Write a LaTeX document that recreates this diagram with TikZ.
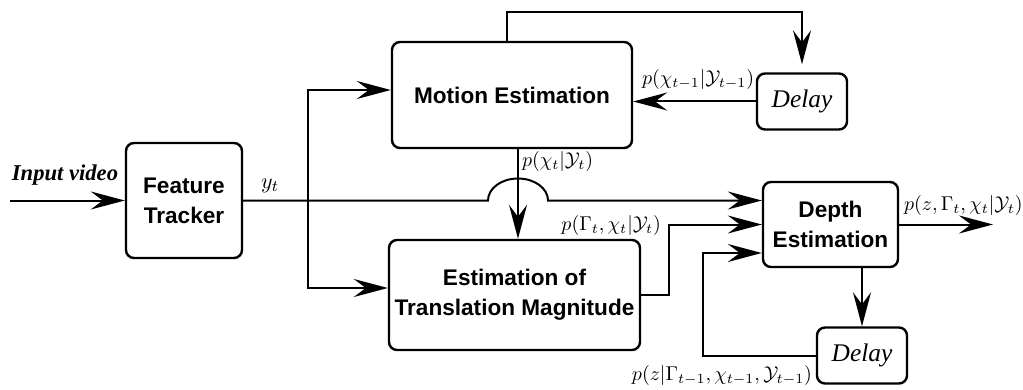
\documentclass[tikz,border=0pt]{standalone}
\usepackage{fontspec}
\setmainfont{Liberation Serif}
\setsansfont{Liberation Sans}
\usetikzlibrary{positioning, arrows.meta}

\begin{document}
\begin{tikzpicture}[x=0.5pt, y=-0.5pt, line width=1pt,
    >={Stealth[length=17pt, width=9pt, inset=6pt]},
    blk/.style={draw, line width=1.2pt, rounded corners=4pt, inner sep=0pt, align=center,
        font=\fontsize{11.3}{15}\selectfont\sffamily\bfseries},
    dly/.style={draw, line width=1.2pt, rounded corners=4pt, minimum width=45pt,
        minimum height=28pt, font=\fontsize{12.7}{15}\selectfont\itshape},
    lbl/.style={inner sep=0pt, font=\fontsize{10}{12}\selectfont}]

    \useasboundingbox (0,0) rectangle (1023,390);

    \node[blk, minimum width=58pt, minimum height=57.5pt] (ft) at (184,200.5) {Feature\\Tracker};
    \node[blk, minimum width=120pt, minimum height=53pt] (me) at (512,95) {Motion Estimation};
    \node[blk, minimum width=125.5pt, minimum height=55pt] (et) at (514.5,295) {Estimation of\\Translation Magnitude};
    \node[blk, minimum width=67.5pt, minimum height=42.5pt] (de) at (830.5,224.5) {Depth\\Estimation};
    \node[dly] (d1) at (802,101.5) {Delay};
    \node[dly] (d2) at (862,355.5) {Delay};

    \coordinate (in) at (10,200.5);
    \coordinate (jn) at (308,200.5);
    \coordinate (hop) at (518,200.5);
    \coordinate (fbtop) at (802,12);
    \coordinate (fb) at (703,253);
    \coordinate (out) at (993,224.5);

    \draw[->] (in) -- (ft);
    \draw[->] (ft) -- ([xshift=-15pt]hop) arc[start angle=180, end angle=0, x radius=15pt, y radius=11pt]
        -- (de.west |- hop);
    \draw[->] (jn) |- ([yshift=2.5pt]me.west);
    \draw[->] (jn) |- ([yshift=3.5pt]et.west);
    \draw[->] ([xshift=3pt]me.south) -- ([xshift=3pt]me.south |- et.north);
    \draw[->] ([xshift=-2.5pt]me.north) |- (fbtop) -- ([yshift=4pt]d1.north);
    \draw[->] (d1) -- (me.east |- d1);
    \draw[->] (et.east) -- ++(14pt,0) |- (de.west);
    \draw[->] (de) -- (out);
    \draw[->] (de.south -| d2.north) -- (d2);
    \draw[->] (d2) -| (fb) -- (de.west |- fb);

    \node[lbl, font=\fontsize{11.3}{13}\selectfont\bfseries\itshape] (invid) at (65,175) {Input video};
    \node[lbl, font=\fontsize{11}{13}\selectfont] (yt) at (270,186) {$y_t$};
    \node[lbl, anchor=west] (pd1) at (641,80) {$p(\chi_{t-1}|\mathcal{Y}_{t-1})$};
    \node[lbl, anchor=west] (pme) at (521,162) {$p(\chi_t|\mathcal{Y}_t)$};
    \node[lbl, anchor=east] (pet) at (662,225) {$p(\Gamma_t,\chi_t|\mathcal{Y}_t)$};
    \node[lbl, anchor=west] (pde) at (903,206) {$p(z,\Gamma_t,\chi_t|\mathcal{Y}_t)$};
    \node[lbl, anchor=east] (pd2) at (813,375) {$p(z|\Gamma_{t-1},\chi_{t-1},\mathcal{Y}_{t-1})$};
\end{tikzpicture}
\end{document}
